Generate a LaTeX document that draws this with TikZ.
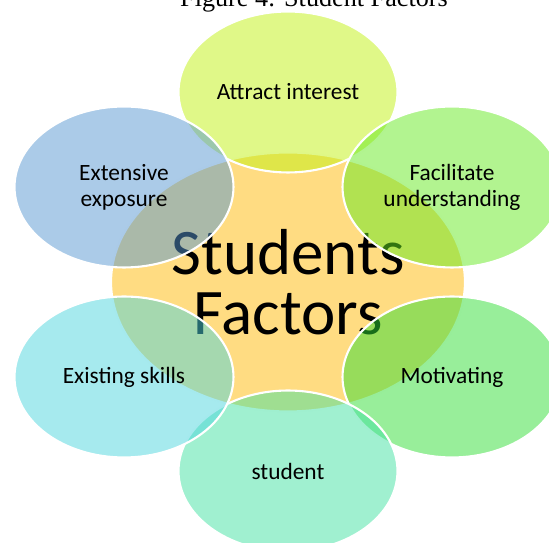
\documentclass[tikz,border=0pt]{standalone}
\usepackage{fontspec}
\setmainfont{Carlito}
\newfontfamily\captionfont{Liberation Serif}
\usetikzlibrary{shapes.geometric}
\definecolor{hubfill}{RGB}{255,220,130}
\definecolor{petaltop}{RGB}{193,241,17}
\definecolor{petalupright}{RGB}{101,233,33}
\definecolor{petallowright}{RGB}{49,221,53}
\definecolor{petalbottom}{RGB}{65,225,161}
\definecolor{petallowleft}{RGB}{77,213,221}
\definecolor{petalupleft}{RGB}{87,151,209}

\begin{document}
\begin{tikzpicture}[x=0.02cm, y=-0.02cm,
    hub/.style={ellipse, draw=white, line width=1.2pt, fill=hubfill,
        minimum width=7.08cm, minimum height=5.18cm, align=center,
        font=\fontsize{37}{34}\selectfont},
    petal/.style={ellipse, draw=white, line width=1.2pt, fill=#1,
        fill opacity=0.5, text opacity=1, minimum width=4.38cm,
        minimum height=3.22cm, align=center,
        font=\fontsize{13.3}{14.7}\selectfont}]
    \useasboundingbox (0,0) rectangle (549,543);

    % Caption (cut off by the top edge)
    \node[anchor=base, font=\captionfont\fontsize{14.9}{17}\selectfont] (caption) at (314,6.5) {Figure 4: Student Factors};

    % Centre ellipse
    \node[hub] (hub) at (288,282) {Students\\Factors};

    % Outer ellipses, clockwise from the top
    \node[petal=petaltop] (interest) at (288,92) {Attract interest};
    \node[petal=petalupright] (understand) at (452,187) {Facilitate\\understanding};
    \node[petal=petallowright] (motivate) at (452,377) {Motivating};
    \node[petal=petalbottom] (student) at (288,471) {student};
    \node[petal=petallowleft] (skills) at (124,377) {Existing skills};
    \node[petal=petalupleft] (exposure) at (124,187) {Extensive\\exposure};
\end{tikzpicture}
\end{document}
